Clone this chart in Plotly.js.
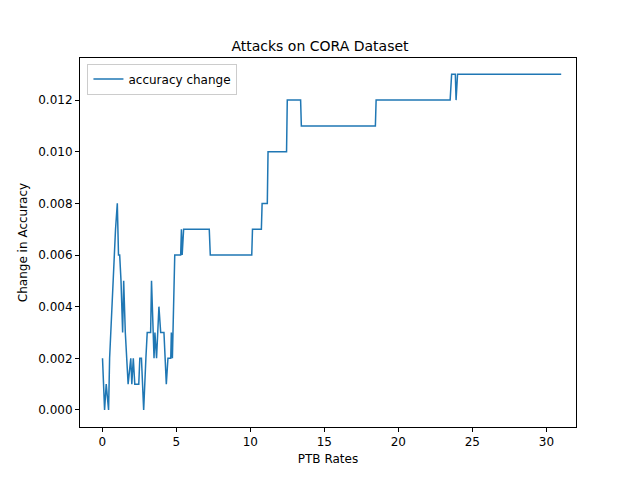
<!DOCTYPE html>
<html>
<head>
<script src="https://cdn.plot.ly/plotly-3.0.1.min.js"></script>
<style>body{margin:0}</style>
</head>
<body>
<div id="plot" style="width:640px;height:480px"></div>
<script>
// PTB rates and accuracy change
var ptbRates = [0.02, 0.16, 0.27, 0.43, 0.5, 0.73, 0.82, 0.9, 1.02, 1.1, 1.18, 1.27, 1.38, 1.45, 1.56, 1.63,
    1.75, 1.93, 2.0, 2.1, 2.2, 2.47, 2.54, 2.65, 2.7, 2.8, 2.95, 3.04, 3.27, 3.33, 3.5, 3.56, 3.67,
    3.83, 3.95, 4.17, 4.33, 4.44, 4.63, 4.67, 4.74, 4.9, 5.3, 5.35, 5.4, 5.45, 5.5, 7.23, 7.3,
    10.1, 10.15, 10.75, 10.8, 11.15, 11.2, 12.45, 12.5, 13.4, 13.45, 18.45, 18.5, 23.5, 23.6,
    23.85, 23.9, 24.0, 24.05, 31.0];
var accChange = [0.002, 0.0, 0.001, 0.0, 0.002, 0.005, 0.006, 0.007, 0.008, 0.006, 0.006, 0.005, 0.003, 0.005,
    0.003, 0.002, 0.001, 0.002, 0.001, 0.002, 0.001, 0.001, 0.002, 0.002, 0.001, 0.0, 0.002, 0.003,
    0.003, 0.005, 0.002, 0.003, 0.002, 0.004, 0.003, 0.003, 0.001, 0.002, 0.002, 0.003, 0.002,
    0.006, 0.006, 0.007, 0.006, 0.007, 0.007, 0.007, 0.006,
    0.006, 0.007, 0.007, 0.008, 0.008, 0.010, 0.010, 0.012, 0.012, 0.011, 0.011, 0.012, 0.012,
    0.013, 0.013, 0.012, 0.013, 0.013, 0.013];

var axisStyle = {
    showgrid: false, zeroline: false, showline: true, mirror: true,
    linecolor: '#000', linewidth: 1, ticks: 'outside', ticklen: 4, tickcolor: '#000',
    tickfont: {size: 12, color: '#000'}
};

Plotly.newPlot('plot', [{
    x: ptbRates,
    y: accChange,
    type: 'scatter',
    mode: 'lines',
    name: 'accuracy change',
    line: {color: '#1f77b4', width: 1.5}
}], {
    width: 640, height: 480,
    margin: {l: 80, r: 64, t: 58, b: 53},
    paper_bgcolor: '#fff', plot_bgcolor: '#fff',
    font: {family: 'DejaVu Sans', color: '#000'},
    title: {text: 'Attacks on CORA Dataset', font: {size: 14}, x: 0.5, xanchor: 'center', y: 0.915},
    showlegend: true,
    legend: {x: 0.015, y: 0.985, xanchor: 'left', yanchor: 'top', bordercolor: '#ccc', borderwidth: 1, font: {size: 12}},
    xaxis: Object.assign({}, axisStyle, {
        range: [-1.5, 32.0], tickvals: [0, 5, 10, 15, 20, 25, 30],
        title: {text: 'PTB Rates', font: {size: 12}, standoff: 6}
    }),
    yaxis: Object.assign({}, axisStyle, {
        range: [-0.00066, 0.01363], tickvals: [0, 0.002, 0.004, 0.006, 0.008, 0.010, 0.012],
        tickformat: '.3f',
        title: {text: 'Change in Accuracy', font: {size: 12}, standoff: 8}
    })
}, {displayModeBar: false});
</script>
</body>
</html>
